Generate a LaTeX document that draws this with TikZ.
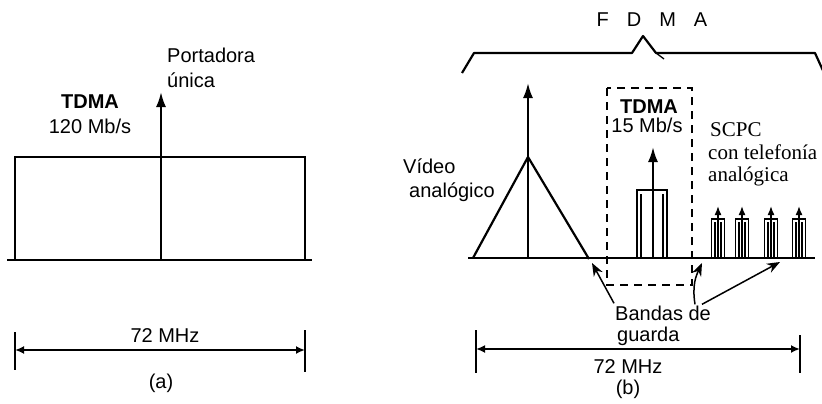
\documentclass[tikz,border=0pt]{standalone}
\usepackage{fontspec}
\setmainfont{Liberation Sans}
\newfontfamily\seriffont{Liberation Serif}
\usetikzlibrary{arrows.meta}
\begin{document}
\begin{tikzpicture}[x=1pt,y=-1pt,
  ln/.style={line width=2.2pt},
  thin ln/.style={line width=1.3pt},
  carrier/.style={line width=2.2pt,-{Latex[length=15pt,width=10pt]}},
  smallcarrier/.style={line width=1.6pt,-{Latex[length=9pt,width=7pt]}},
  dim/.style={line width=1.8pt,{Latex[length=9pt,width=8pt]}-{Latex[length=9pt,width=8pt]}},
  guardarrow/.style={line width=1.5pt,-{Stealth[length=13pt,width=10pt]}},
  dashbox/.style={line width=2pt,dash pattern=on 8pt off 6pt},
  lbl/.style={inner sep=0pt,font=\fontsize{20}{24}\selectfont},
  blbl/.style={inner sep=0pt,font=\fontsize{20}{24}\selectfont\bfseries},
  slbl/.style={inner sep=0pt,font=\fontsize{21}{24}\seriffont}]
\useasboundingbox (0,0) rectangle (822,404);

% ---------------- (a) ----------------
\coordinate (aL) at (7,260);
\coordinate (aR) at (312,260);
\draw[ln] (aL) -- (aR);
\draw[ln] (15,260) |- (305,157) -- (305,260);
\coordinate (a0) at (161,260);
\coordinate (a1) at (161,92);
\draw[carrier] (a0) -- (a1);
\node[lbl,anchor=base west] (port) at (167,63) {Portadora};
\node[lbl,anchor=base west] (unica) at (167,88) {única};
\node[blbl,anchor=base] (tdmaA) at (90,108) {TDMA};
\node[lbl,anchor=base] (rateA) at (90,133) {120 Mb/s};
% dimension (a)
\coordinate (da1) at (15,332); \coordinate (da2) at (15,370);
\coordinate (da3) at (305,330); \coordinate (da4) at (305,372);
\draw[ln] (da1) -- (da2);
\draw[ln] (da3) -- (da4);
\coordinate (dal) at (15,350); \coordinate (dar) at (305,350);
\draw[dim] (dal) -- (dar);
\node[lbl,anchor=base] (mhzA) at (165,342) {72 MHz};
\node[lbl,anchor=base] (capA) at (161,388) {(a)};

% ---------------- (b) ----------------
% brace
\coordinate (b1) at (462,73);
\coordinate (b2) at (474,53);
\coordinate (b3) at (632,53);
\coordinate (b4) at (643,36);
\coordinate (b5) at (656,53);
\coordinate (b6) at (815,53);
\coordinate (b7) at (825,75);
\draw[ln,line join=round] (b1) -- (b2) -- (b3) -- (b4) -- (b5) -- (b6) -- (b7);
\draw[thin ln] (b5) -- (664,59);
\node[lbl,anchor=base] (fdma) at (652,27) {F\hspace{18pt}D\hspace{18pt}M\hspace{18pt}A};

% baseline
\coordinate (bL) at (468,258);
\coordinate (bR) at (815,258);
\draw[ln] (bL) -- (bR);

% video triangle and carrier
\coordinate (t1) at (473,258);
\coordinate (t2) at (528,157);
\coordinate (t3) at (589,259);
\draw[ln,line join=round] (t1) -- (t2) -- (t3);
\coordinate (v0) at (528,258);
\coordinate (v1) at (528,83);
\draw[carrier] (v0) -- (v1);
\node[lbl,anchor=base west] (video) at (403,173) {Vídeo};
\node[lbl,anchor=base west] (vanal) at (409,197) {analógico};

% TDMA carrier in FDMA
\draw[ln] (637,258) |- (667,190) -- (667,258);
\draw[thin ln] (641,258) -- (641,194);
\draw[thin ln] (663,258) -- (663,194);
\coordinate (m0) at (653,258);
\coordinate (m1) at (653,147);
\draw[carrier] (m0) -- (m1);
\draw[dashbox] (607,88) rectangle (692,285);
\node[blbl,anchor=base] (tdmaB) at (649,113) {TDMA};
\node[lbl,anchor=base] (rateB) at (647,132) {15 Mb/s};

% SCPC carriers
\foreach \cx/\nm in {718/s1,742/s2,771/s3,799/s4}{
  \draw[thin ln] (\cx-6.5,258) |- (\cx+6.5,219) -- (\cx+6.5,258);
  \draw[thin ln] (\cx-3,258) -- (\cx-3,222);
  \draw[thin ln] (\cx+3,258) -- (\cx+3,222);
  \coordinate (\nm0) at (\cx,258);
  \coordinate (\nm1) at (\cx,206);
  \draw[smallcarrier] (\nm0) -- (\nm1);
}
\node[slbl,anchor=base west] (scpc) at (710,136) {SCPC};
\node[slbl,anchor=base west] (scpc2) at (708,159) {con telefonía};
\node[slbl,anchor=base west] (scpc3) at (708,181) {analógica};

% guard bands
\node[lbl,anchor=base west] (bandas) at (615,320) {Bandas de};
\node[lbl,anchor=base west] (guarda) at (617,341) {guarda};
\coordinate (g1) at (592,263);
\coordinate (g2) at (702,263);
\coordinate (g3) at (780,262);
\draw[guardarrow] ([xshift=-1pt,yshift=2pt]bandas.north west) -- (g1);
\draw[guardarrow] ([xshift=80pt,yshift=1pt]bandas.north west) .. controls (692,285) and (696,276) .. (g2);
\draw[guardarrow] ([xshift=87pt,yshift=1pt]bandas.north west) -- (g3);

% dimension (b)
\coordinate (db1) at (476,330); \coordinate (db2) at (476,373);
\coordinate (db3) at (800,335); \coordinate (db4) at (800,373);
\draw[ln] (db1) -- (db2);
\draw[ln] (db3) -- (db4);
\coordinate (dbl) at (476,349); \coordinate (dbr) at (800,349);
\draw[dim] (dbl) -- (dbr);
\node[lbl,anchor=base] (mhzB) at (628,373) {72 MHz};
\node[lbl,anchor=base] (capB) at (628,394) {(b)};
\end{tikzpicture}
\end{document}
